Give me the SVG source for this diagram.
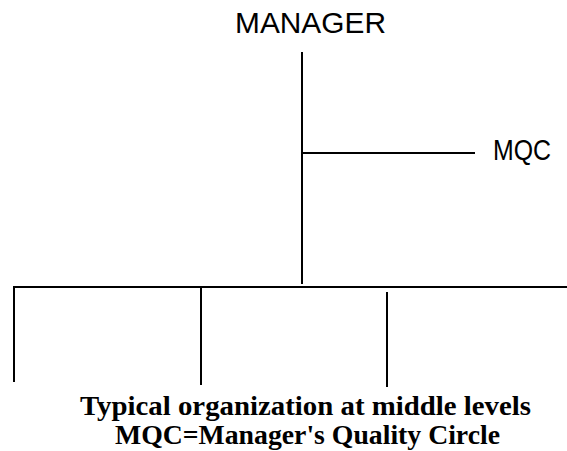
<svg xmlns="http://www.w3.org/2000/svg" width="567" height="451" viewBox="0 0 567 451">
<style>
.ln{stroke:#000;stroke-width:2;fill:none}
.lbl{font-family:"Liberation Sans",Arial,sans-serif;font-size:29px;fill:#000}
.cap{font-family:"Liberation Serif","Times New Roman",serif;font-weight:bold;font-size:27px;fill:#000}
</style>
<rect width="567" height="451" fill="#fff"/>
<g id="manager"><text class="lbl" x="235" y="33" textLength="151" lengthAdjust="spacingAndGlyphs">MANAGER</text></g>
<g id="mqc"><text class="lbl" x="493" y="160" textLength="58" lengthAdjust="spacingAndGlyphs">MQC</text></g>
<g id="connectors">
<line class="ln" x1="302" y1="52" x2="302" y2="284"/>
<line class="ln" x1="302" y1="153" x2="475" y2="153"/>
<line class="ln" x1="13" y1="287" x2="567" y2="287"/>
<line class="ln" x1="14" y1="286" x2="14" y2="382"/>
<line class="ln" x1="201" y1="287" x2="201" y2="385"/>
<line class="ln" x1="387" y1="292" x2="387" y2="387"/>
</g>
<g id="caption">
<text class="cap" x="80" y="415" textLength="451" lengthAdjust="spacingAndGlyphs">Typical organization at middle levels</text>
<text class="cap" x="115" y="444" textLength="385" lengthAdjust="spacingAndGlyphs">MQC=Manager's Quality Circle</text>
</g>
</svg>
